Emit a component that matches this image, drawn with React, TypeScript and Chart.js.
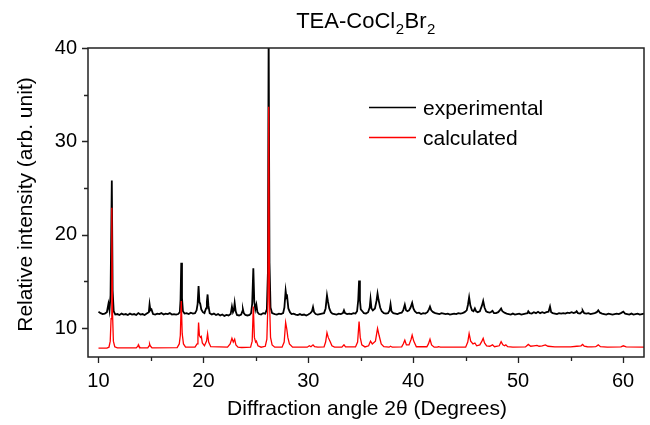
import React, { useEffect, useRef } from "react";
import { Chart, registerables } from "chart.js";

Chart.register(...registerables);

// ---- data (2θ in degrees, relative intensity) ----
const experimental: [number, number][] = [
  [10.0, 11.75], [10.2, 11.6], [10.4, 11.5], [10.6, 11.55], [10.8, 11.7], [10.95, 12.6], [11.05, 11.9], [11.15, 13.5],
  [11.27, 25.8], [11.35, 14.0], [11.45, 11.8], [11.6, 11.45], [11.8, 11.5], [12.0, 11.4], [12.2, 11.55], [12.4, 11.45],
  [12.6, 11.5], [12.8, 11.4], [13.0, 11.55], [13.2, 11.45], [13.4, 11.5], [13.6, 11.4], [13.8, 11.6], [14.0, 11.45],
  [14.2, 11.5], [14.4, 11.4], [14.6, 11.55], [14.8, 11.7], [14.87, 12.55], [14.95, 11.9], [15.05, 12.0], [15.2, 11.5],
  [15.4, 11.45], [15.6, 11.55], [15.8, 11.5], [16.0, 11.6], [16.2, 11.45], [16.4, 11.55], [16.6, 11.5], [16.8, 11.6],
  [17.0, 11.45], [17.2, 11.5], [17.4, 11.45], [17.6, 11.5], [17.75, 11.7], [17.82, 13.0], [17.89, 17.0], [17.96, 13.2],
  [18.05, 11.8], [18.2, 11.55], [18.4, 11.6], [18.6, 11.5], [18.8, 11.65], [19.0, 11.55], [19.2, 11.6], [19.35, 11.9],
  [19.45, 12.6], [19.54, 14.5], [19.62, 12.8], [19.7, 12.6], [19.8, 12.0], [19.95, 11.7], [20.1, 11.6], [20.25, 12.1],
  [20.33, 12.8], [20.4, 13.6], [20.48, 12.4], [20.6, 11.6], [20.8, 11.45], [21.0, 11.55], [21.2, 11.4], [21.4, 11.5],
  [21.6, 11.35], [21.8, 11.45], [22.0, 11.3], [22.2, 11.4], [22.4, 11.35], [22.6, 11.5], [22.72, 12.3], [22.82, 11.7],
  [22.9, 11.9], [22.98, 12.7], [23.08, 11.8], [23.2, 11.4], [23.4, 11.35], [23.6, 11.45], [23.72, 11.8], [23.77, 12.0],
  [23.85, 11.6], [24.0, 11.4], [24.2, 11.35], [24.4, 11.4], [24.55, 11.6], [24.65, 12.6], [24.76, 16.4], [24.85, 12.8],
  [24.95, 12.0], [25.05, 12.5], [25.15, 11.7], [25.3, 11.5], [25.5, 11.45], [25.7, 11.6], [25.9, 11.55], [26.05, 12.0],
  [26.15, 16.0], [26.22, 42.0], [26.3, 17.0], [26.4, 12.2], [26.55, 11.6], [26.8, 11.5], [27.0, 11.45], [27.2, 11.55],
  [27.4, 11.5], [27.6, 11.6], [27.72, 12.2], [27.84, 14.0], [27.92, 13.3], [27.98, 13.4], [28.1, 12.1], [28.25, 11.7],
  [28.4, 11.5], [28.6, 11.55], [28.8, 11.45], [29.0, 11.4], [29.2, 11.5], [29.4, 11.4], [29.6, 11.45], [29.8, 11.35],
  [30.0, 11.45], [30.2, 11.6], [30.35, 11.8], [30.45, 12.25], [30.55, 11.7], [30.7, 11.5], [30.9, 11.45], [31.1, 11.5],
  [31.3, 11.55], [31.5, 11.6], [31.65, 12.1], [31.78, 13.5], [31.88, 12.8], [32.0, 12.1], [32.15, 11.7], [32.3, 11.55],
  [32.5, 11.5], [32.7, 11.45], [32.9, 11.55], [33.1, 11.5], [33.3, 11.6], [33.4, 11.9], [33.5, 11.6], [33.7, 11.5],
  [33.9, 11.55], [34.1, 11.5], [34.3, 11.6], [34.5, 11.55], [34.65, 11.8], [34.76, 13.0], [34.84, 15.1], [34.92, 13.0],
  [35.0, 12.0], [35.15, 11.8], [35.3, 11.6], [35.5, 11.55], [35.7, 11.7], [35.85, 12.2], [35.93, 13.1], [36.02, 12.1],
  [36.15, 11.9], [36.35, 12.1], [36.5, 12.9], [36.6, 13.7], [36.7, 13.0], [36.85, 12.2], [37.0, 11.8], [37.2, 11.6],
  [37.4, 11.55], [37.6, 11.6], [37.75, 11.9], [37.84, 12.55], [37.93, 11.8], [38.1, 11.6], [38.3, 11.55], [38.5, 11.5],
  [38.7, 11.6], [38.9, 11.65], [39.05, 11.9], [39.2, 12.5], [39.32, 11.9], [39.45, 11.8], [39.6, 11.9], [39.75, 12.2],
  [39.9, 12.7], [40.02, 12.1], [40.15, 11.8], [40.35, 11.6], [40.55, 11.65], [40.75, 11.5], [40.95, 11.6], [41.15, 11.55],
  [41.35, 11.7], [41.5, 12.0], [41.6, 12.3], [41.72, 11.9], [41.9, 11.7], [42.1, 11.6], [42.3, 11.55], [42.5, 11.5],
  [42.7, 11.6], [42.9, 11.55], [43.1, 11.5], [43.3, 11.55], [43.5, 11.45], [43.7, 11.5], [43.9, 11.55], [44.1, 11.5],
  [44.3, 11.6], [44.5, 11.55], [44.7, 11.6], [44.9, 11.7], [45.1, 11.9], [45.22, 12.5], [45.33, 13.3], [45.45, 12.4],
  [45.6, 11.9], [45.75, 11.8], [45.88, 12.1], [46.0, 11.8], [46.15, 11.7], [46.35, 11.8], [46.55, 12.4], [46.67, 12.9],
  [46.8, 12.2], [46.95, 11.8], [47.1, 11.7], [47.3, 11.65], [47.45, 11.75], [47.56, 11.85], [47.7, 11.6], [47.9, 11.6],
  [48.1, 11.7], [48.25, 11.9], [48.38, 12.1], [48.5, 11.8], [48.7, 11.65], [48.9, 11.55], [49.1, 11.5], [49.3, 11.45],
  [49.5, 11.55], [49.7, 11.45], [49.9, 11.5], [50.1, 11.55], [50.3, 11.45], [50.5, 11.5], [50.7, 11.55], [50.9, 11.6],
  [50.97, 11.8], [51.1, 11.6], [51.3, 11.55], [51.5, 11.7], [51.7, 11.6], [51.9, 11.75], [52.1, 11.6], [52.3, 11.7],
  [52.5, 11.6], [52.7, 11.7], [52.9, 11.75], [53.04, 12.3], [53.15, 11.7], [53.3, 11.6], [53.5, 11.55], [53.7, 11.5],
  [53.9, 11.6], [54.1, 11.55], [54.3, 11.6], [54.5, 11.55], [54.7, 11.65], [54.9, 11.6], [55.1, 11.7], [55.3, 11.6],
  [55.5, 11.7], [55.58, 11.8], [55.7, 11.6], [55.9, 11.55], [56.1, 11.75], [56.15, 11.9], [56.3, 11.6], [56.5, 11.55],
  [56.7, 11.6], [56.9, 11.5], [57.1, 11.55], [57.3, 11.6], [57.5, 11.7], [57.64, 11.9], [57.8, 11.65], [58.0, 11.55],
  [58.2, 11.5], [58.4, 11.45], [58.6, 11.55], [58.8, 11.5], [59.0, 11.45], [59.2, 11.5], [59.4, 11.55], [59.6, 11.5],
  [59.8, 11.6], [60.03, 11.75], [60.2, 11.55], [60.4, 11.5], [60.6, 11.45], [60.8, 11.55], [61.0, 11.45], [61.2, 11.5],
  [61.4, 11.55], [61.6, 11.45], [61.8, 11.5], [62.0, 11.55],
];

const calculated: [number, number][] = [
  [10.0, 7.85], [10.8, 7.85], [11.0, 7.95], [11.12, 8.6], [11.2, 11.0], [11.27, 22.9], [11.34, 11.5], [11.42, 8.6],
  [11.55, 8.0], [11.8, 7.87], [13.6, 7.87], [13.75, 8.05], [13.8, 8.2], [13.85, 8.05], [14.0, 7.88], [14.7, 7.88],
  [14.82, 8.1], [14.87, 8.3], [14.93, 8.1], [15.1, 7.88], [17.5, 7.9], [17.7, 8.3], [17.8, 9.2], [17.89, 12.9],
  [17.98, 9.4], [18.1, 8.3], [18.3, 7.95], [19.2, 7.95], [19.4, 8.3], [19.48, 9.0], [19.54, 10.6], [19.62, 9.2],
  [19.72, 9.0], [19.8, 9.1], [19.9, 8.4], [20.1, 8.1], [20.3, 8.6], [20.4, 9.4], [20.5, 8.5], [20.7, 8.0],
  [22.3, 7.95], [22.55, 8.3], [22.72, 8.9], [22.85, 8.5], [22.98, 8.8], [23.1, 8.2], [23.3, 7.95], [23.65, 7.92],
  [24.5, 7.95], [24.65, 8.6], [24.76, 12.3], [24.86, 9.0], [24.98, 8.5], [25.05, 8.6], [25.2, 8.1], [25.5, 7.95],
  [25.9, 8.05], [26.05, 8.8], [26.15, 12.5], [26.22, 33.7], [26.3, 13.0], [26.4, 9.0], [26.55, 8.2], [26.8, 7.95],
  [27.5, 7.95], [27.7, 8.5], [27.84, 10.6], [27.95, 9.9], [28.05, 9.0], [28.2, 8.3], [28.5, 7.95], [29.9, 7.95],
  [30.1, 8.1], [30.25, 8.0], [30.45, 8.2], [30.6, 8.0], [30.9, 7.95], [31.5, 7.98], [31.65, 8.5], [31.78, 9.5],
  [31.9, 9.0], [32.1, 8.5], [32.25, 8.1], [32.5, 7.95], [33.2, 7.95], [33.4, 8.2], [33.55, 7.98], [34.5, 7.98],
  [34.7, 8.5], [34.84, 10.7], [34.95, 9.0], [35.1, 8.2], [35.4, 7.98], [35.75, 8.1], [35.93, 8.6], [36.1, 8.3],
  [36.4, 8.6], [36.6, 9.97], [36.75, 9.2], [36.95, 8.3], [37.2, 8.0], [37.7, 7.95], [37.84, 8.05], [38.0, 7.95],
  [38.9, 7.98], [39.05, 8.3], [39.2, 8.7], [39.35, 8.2], [39.6, 8.2], [39.8, 8.8], [39.9, 9.25], [40.05, 8.6],
  [40.3, 8.0], [41.3, 8.0], [41.45, 8.3], [41.6, 8.8], [41.75, 8.2], [42.0, 7.95], [42.3, 7.95], [42.4, 8.0],
  [42.6, 7.95], [45.0, 7.95], [45.2, 8.5], [45.33, 9.4], [45.48, 8.6], [45.7, 8.3], [45.88, 8.4], [46.05, 8.1],
  [46.35, 8.2], [46.55, 8.6], [46.67, 8.9], [46.8, 8.4], [47.0, 8.1], [47.3, 8.05], [47.56, 8.2], [47.75, 8.0],
  [48.2, 8.1], [48.38, 8.55], [48.55, 8.2], [48.7, 8.1], [48.83, 8.2], [49.0, 8.0], [49.5, 7.95], [50.7, 7.98],
  [50.97, 8.25], [51.2, 8.05], [51.5, 8.1], [51.8, 8.15], [52.0, 8.05], [52.3, 8.1], [52.6, 8.2], [52.85, 8.05],
  [53.5, 7.98], [55.0, 7.98], [55.6, 8.05], [56.0, 8.1], [56.15, 8.25], [56.3, 8.05], [56.6, 8.0], [57.0, 7.98],
  [57.4, 8.0], [57.64, 8.2], [57.85, 8.0], [58.5, 7.95], [59.8, 7.98], [60.03, 8.1], [60.3, 7.98], [62.0, 7.95],
];

const xMajorTicks = [10, 20, 30, 40, 50, 60];
const xMinorTicks = [15, 25, 35, 45, 55];
const yMajorTicks = [10, 20, 30, 40];
const yMinorTicks = [15, 25, 35];
const seriesNames = ["experimental", "calculated"];
const seriesColors = ["#000000", "#ff0000"];

const FONT = "'Liberation Sans', Arial, Helvetica, sans-serif";

const decorPlugin = {
  id: "decor",
  afterDatasetsDraw(chart: any) {
    const { ctx, chartArea: a, scales } = chart;
    const x = scales.x;
    const y = scales.y;
    ctx.save();
    ctx.strokeStyle = "#222";
    ctx.lineWidth = 1.5;
    ctx.strokeRect(a.left, a.top, a.right - a.left, a.bottom - a.top);
    ctx.lineWidth = 1.3;
    ctx.beginPath();
    for (const v of xMajorTicks) {
      const p = Math.round(x.getPixelForValue(v)) + 0.5;
      ctx.moveTo(p, a.bottom);
      ctx.lineTo(p, a.bottom + 6);
    }
    for (const v of xMinorTicks) {
      const p = Math.round(x.getPixelForValue(v)) + 0.5;
      ctx.moveTo(p, a.bottom);
      ctx.lineTo(p, a.bottom + 4);
    }
    for (const v of yMajorTicks) {
      const p = Math.round(y.getPixelForValue(v)) + 0.5;
      ctx.moveTo(a.left, p);
      ctx.lineTo(a.left - 6, p);
    }
    for (const v of yMinorTicks) {
      const p = Math.round(y.getPixelForValue(v)) + 0.5;
      ctx.moveTo(a.left, p);
      ctx.lineTo(a.left - 4, p);
    }
    ctx.stroke();

    // legend
    const legendY = [107.5, 137.5];
    seriesNames.forEach((name, i) => {
      ctx.strokeStyle = seriesColors[i];
      ctx.lineWidth = 1.4;
      ctx.beginPath();
      ctx.moveTo(369, legendY[i]);
      ctx.lineTo(416, legendY[i]);
      ctx.stroke();
      ctx.fillStyle = "#000";
      ctx.font = `21px ${FONT}`;
      ctx.textAlign = "left";
      ctx.textBaseline = "alphabetic";
      ctx.fillText(name, 423, legendY[i] + 7.5);
    });

    // title with subscripts
    const parts: [string, boolean][] = [["TEA-CoCl", false], ["2", true], ["Br", false], ["2", true]];
    const mainFont = `22px ${FONT}`;
    const subFont = `15px ${FONT}`;
    let total = 0;
    for (const [t, sub] of parts) {
      ctx.font = sub ? subFont : mainFont;
      total += ctx.measureText(t).width + (sub ? 1 : 0);
    }
    let cx = (a.left + a.right) / 2 - total / 2;
    ctx.fillStyle = "#000";
    ctx.textAlign = "left";
    ctx.textBaseline = "alphabetic";
    for (const [t, sub] of parts) {
      ctx.font = sub ? subFont : mainFont;
      ctx.fillText(t, cx + (sub ? 0.5 : 0), sub ? 34 : 28);
      cx += ctx.measureText(t).width + (sub ? 1 : 0);
    }

    // axis titles
    ctx.font = `21px ${FONT}`;
    ctx.textAlign = "center";
    ctx.fillText("Diffraction angle 2\u03b8 (Degrees)", (a.left + a.right) / 2 + 1, 415);
    ctx.save();
    ctx.translate(32, (a.top + a.bottom) / 2 + 2);
    ctx.rotate(-Math.PI / 2);
    ctx.fillText("Relative intensity (arb. unit)", 0, 0);
    ctx.restore();
    ctx.restore();
  },
};

export default function App() {
  const ref = useRef<HTMLCanvasElement | null>(null);
  useEffect(() => {
    if (!ref.current) return;
    const chart = new Chart(ref.current, {
      type: "line",
      data: {
        datasets: [
          {
            label: seriesNames[1],
            data: calculated.map(([x, y]) => ({ x, y })),
            borderColor: seriesColors[1],
            borderWidth: 1.3,
            pointRadius: 0,
            tension: 0,
            order: 0,
          },
          {
            label: seriesNames[0],
            data: experimental.map(([x, y]) => ({ x, y })),
            borderColor: seriesColors[0],
            borderWidth: 1.8,
            pointRadius: 0,
            tension: 0,
            order: 1,
          },
        ],
      },
      options: {
        animation: false,
        responsive: false,
        devicePixelRatio: 1,
        layout: { padding: { left: 0, top: 48, right: 6, bottom: 0 } },
        plugins: { legend: { display: false }, title: { display: false }, tooltip: { enabled: false } },
        scales: {
          x: {
            type: "linear",
            min: 9,
            max: 62,
            grid: { display: false, drawTicks: false },
            border: { display: false },
            afterFit: (s: any) => { s.height = 68; },
            afterBuildTicks: (s: any) => { s.ticks = xMajorTicks.map((v) => ({ value: v })); },
            ticks: { padding: 12, color: "#000", font: { family: FONT, size: 20 } },
          },
          y: {
            type: "linear",
            min: 6.9,
            max: 40,
            grid: { display: false, drawTicks: false },
            border: { display: false },
            afterFit: (s: any) => { s.width = 88; },
            afterBuildTicks: (s: any) => { s.ticks = yMajorTicks.map((v) => ({ value: v })); },
            ticks: { padding: 11, color: "#000", font: { family: FONT, size: 20 } },
          },
        },
      },
      plugins: [decorPlugin],
    });
    return () => chart.destroy();
  }, []);
  return (
    <div style={{ position: "absolute", left: 0, top: 0, width: 650, height: 425, background: "#fff" }}>
      <canvas ref={ref} width={650} height={425} />
    </div>
  );
}
